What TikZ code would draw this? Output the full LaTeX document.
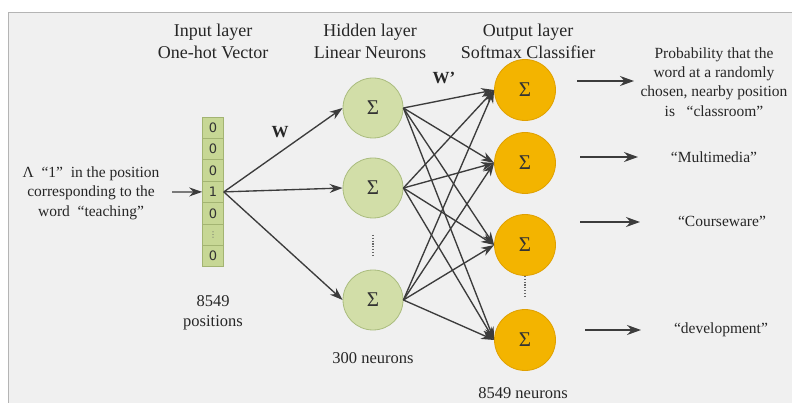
\documentclass[tikz,border=0pt]{standalone}
\usepackage{fontspec}
\setmainfont{Liberation Serif}
\newfontfamily\digitfont{DejaVu Sans}
\usetikzlibrary{arrows.meta}
\definecolor{bgc}{HTML}{F0F0F0}
\definecolor{framec}{HTML}{B4B4B4}
\definecolor{hidfill}{HTML}{D2DEA8}
\definecolor{hiddraw}{HTML}{AABC7E}
\definecolor{outfill}{HTML}{F3B400}
\definecolor{outdraw}{HTML}{E0A000}
\definecolor{cellfill}{HTML}{C7D795}
\definecolor{celldraw}{HTML}{A3B472}
\definecolor{arrc}{HTML}{3C3C3C}
\tikzset{
  hid/.style={circle, minimum size=60pt, inner sep=0pt, fill=hidfill, draw=hiddraw, line width=0.8pt, font=\fontsize{21}{21}\selectfont, text=black!80},
  outn/.style={circle, minimum size=61pt, inner sep=0pt, fill=outfill, draw=outdraw, line width=0.8pt, font=\fontsize{21}{21}\selectfont, text=black!80},
  cell/.style={rectangle, minimum width=21pt, minimum height=21.4pt, inner sep=0pt, fill=cellfill, draw=celldraw, line width=0.6pt, font=\digitfont\fontsize{13}{13}\selectfont, text=black!80},
  conn/.style={draw=arrc, line width=1.35pt, -{Stealth[length=13pt,width=9pt]}},
  outarrow/.style={draw=arrc, line width=1.6pt, -{Stealth[length=14pt,width=10pt]}},
  header/.style={align=center, font=\fontsize{18}{22}\selectfont, text=black!85},
  lbl/.style={align=center, font=\fontsize{15.5}{19.3}\selectfont, text=black!85},
  cnt/.style={align=center, font=\fontsize{16.5}{20}\selectfont, text=black!85},
  wlab/.style={font=\bfseries\fontsize{17}{17}\selectfont, text=black!85},
  vdots/.style={draw=black!60, line width=1.4pt, dash pattern=on 1.2pt off 1.6pt}
}
\begin{document}
\begin{tikzpicture}[x=1pt,y=-1pt]
\useasboundingbox (0,0) rectangle (792,403);
\fill[white] (0,0) rectangle (792,403);
\draw[fill=bgc, draw=framec, line width=0.8pt] (8,12) rectangle (800,412);

% headers
\node[header] (hin) at (213,41) {Input layer\\One-hot Vector};
\node[header] (hhid) at (370,41) {Hidden layer\\Linear Neurons};
\node[header] (hout) at (528,41) {Output layer\\Softmax Classifier};

% input vector
\node[cell] (v1) at (213,127.7) {0};
\node[cell] (v2) at (213,149.1) {0};
\node[cell] (v3) at (213,170.5) {0};
\node[cell] (v4) at (213,191.9) {1};
\node[cell] (v5) at (213,213.3) {0};
\node[cell, font=\digitfont\fontsize{8}{8}\selectfont, text=black!60] (v6) at (213,234.7) {⋮};
\node[cell] (v7) at (213,256.1) {0};

% hidden neurons
\node[hid] (h1) at (373,108) {Σ};
\node[hid] (h2) at (373,188) {Σ};
\node[hid] (h3) at (373,300) {Σ};

% output neurons
\node[outn] (o1) at (525,90) {Σ};
\node[outn] (o2) at (525,163) {Σ};
\node[outn] (o3) at (525,245) {Σ};
\node[outn] (o4) at (525,340) {Σ};

% dots
\coordinate (hd1) at (373,235);
\coordinate (hd2) at (373,257);
\draw[vdots] (hd1) -- (hd2);
\coordinate (od1) at (525,276);
\coordinate (od2) at (525,298);
\draw[vdots] (od1) -- (od2);

% left label
\node[lbl] (inlab) at (91,193) {Λ \ “1” \ in the position\\corresponding to the\\word \ “teaching”};
\coordinate (ia) at (172,192);
\draw[conn] (ia) -- (v4.west);

% input to hidden
\draw[conn] (v4.east) -- (h1.west);
\draw[conn] (v4.east) -- (h2.west);
\draw[conn] (v4.east) -- (h3.west);

% hidden to output
\foreach \i in {1,2,3}
  \foreach \j in {1,2,3,4}
    \draw[conn] (h\i.east) -- (o\j.west);

% weight labels
\node[wlab] (w) at (280,132) {W};
\node[wlab] (wp) at (444,78) {W’};

% counts
\node[cnt] (pos) at (213,313) {8549\\positions};
\node[cnt] (hn) at (373,358) {300 neurons};
\node[cnt] (on) at (523,393) {8549 neurons};

% output labels
\node[lbl] (l1) at (714,82) {Probability that the\\word at a randomly\\chosen, nearby position\\is \ \ “classroom”};
\node[lbl] (l2) at (714,157) {“Multimedia”};
\node[lbl] (l3) at (722,221) {“Courseware”};
\node[lbl] (l4) at (721,330) {“development”};

% output arrows
\coordinate (a1s) at (577,81);
\coordinate (a1e) at (634,81);
\coordinate (a2s) at (580,157);
\coordinate (a2e) at (638,157);
\coordinate (a3s) at (580,222);
\coordinate (a3e) at (640,222);
\coordinate (a4s) at (585,330);
\coordinate (a4e) at (641,330);
\draw[outarrow] (a1s) -- (a1e);
\draw[outarrow] (a2s) -- (a2e);
\draw[outarrow] (a3s) -- (a3e);
\draw[outarrow] (a4s) -- (a4e);
\end{tikzpicture}
\end{document}
